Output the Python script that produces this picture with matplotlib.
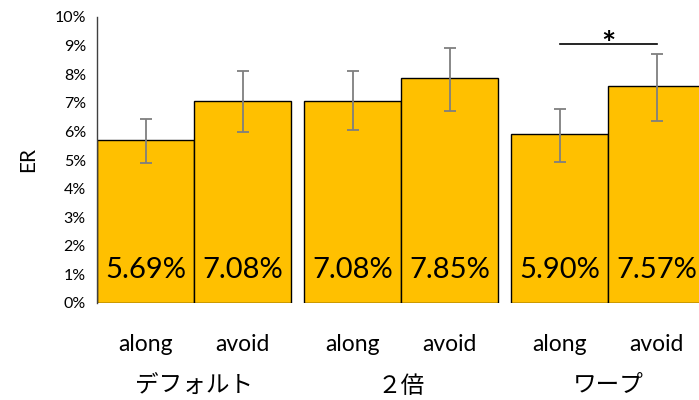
import matplotlib
matplotlib.use("Agg")
import matplotlib.pyplot as plt
import matplotlib.transforms as mtransforms
import numpy as np

plt.rcParams['font.family'] = ['Lato', 'Noto Sans CJK JP', 'DejaVu Sans']

groups = ["デフォルト", "２倍", "ワープ"]
conditions = ["along", "avoid"]
er_values = [5.69, 7.08, 7.08, 7.85, 5.90, 7.57]
err_upper = [0.74, 1.04, 1.02, 1.07, 0.90, 1.13]
err_lower = [0.81, 1.11, 1.02, 1.14, 0.97, 1.21]
yticks = list(range(0, 11))

bar_w = 1.0
group_gap = 0.134

fig = plt.figure(figsize=(6.99, 4.0), dpi=100)
ax = fig.add_axes([97 / 699, 97 / 400, 1 - 97 / 699, 286 / 400])

lefts = []
for g in range(len(groups)):
    start = g * (2 * bar_w + group_gap)
    lefts += [start, start + bar_w]
lefts = np.array(lefts)
centers = lefts + bar_w / 2

ax.bar(lefts, er_values, width=bar_w, align='edge', color='#FFC000',
       edgecolor='black', linewidth=1.0, zorder=2)
ax.errorbar(centers, er_values, yerr=[err_lower, err_upper], fmt='none',
            ecolor='#7f7f7f', elinewidth=1.3, capsize=4, capthick=1.3, zorder=3)

for c, v in zip(centers, er_values):
    ax.text(c, 1.15, f"{v:.2f}%", ha='center', va='center', fontsize=21, zorder=4)

# significance bracket between along/avoid of the last group
y_sig = 9.06
ax.plot([centers[4], centers[5]], [y_sig, y_sig], color='black', lw=1.2, clip_on=False)
ax.text((centers[4] + centers[5]) / 2, y_sig - 0.55, "*", ha='center', va='bottom',
        fontsize=24, fontweight='bold')

ax.set_xlim(0, 6.206)
ax.set_ylim(0, 10)
ax.set_yticks(yticks)
ax.set_yticklabels([f"{t}%" for t in yticks], fontsize=11.5)
ax.tick_params(axis='y', length=0, pad=8)

ax.set_xticks(centers)
ax.set_xticklabels(conditions * len(groups), fontsize=16.5)
ax.tick_params(axis='x', length=0, pad=22)

trans = mtransforms.blended_transform_factory(ax.transData, ax.transAxes)
for g, name in enumerate(groups):
    gc = g * (2 * bar_w + group_gap) + bar_w
    ax.text(gc, -0.29, name, transform=trans, ha='center', va='center', fontsize=17)

ax.set_ylabel("ER", fontsize=15, labelpad=12)

for s in ['top', 'right', 'bottom']:
    ax.spines[s].set_visible(False)
ax.spines['left'].set_color('#404040')
ax.spines['left'].set_linewidth(1.0)

fig.savefig("out.png", dpi=100)
